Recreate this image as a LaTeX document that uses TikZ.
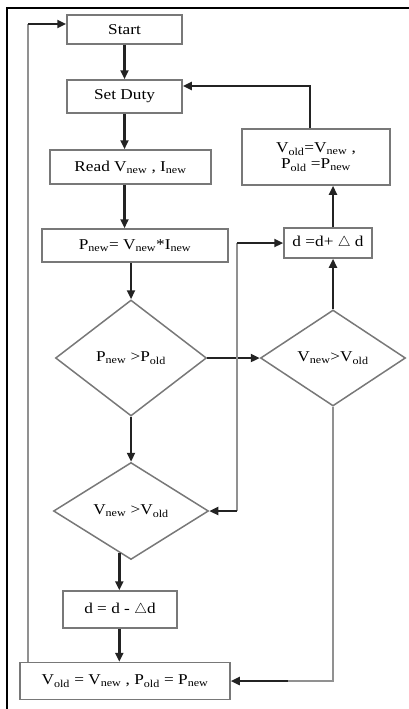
\documentclass[tikz,border=0pt]{standalone}
\usepackage{fontspec}
\setmainfont{Liberation Serif}[FakeStretch=1.15]
\usetikzlibrary{positioning,shapes.geometric,arrows.meta,calc}
\definecolor{BoxGray}{RGB}{120,120,120}
\definecolor{LineGray}{RGB}{145,145,145}
\definecolor{Ink}{RGB}{35,35,35}

\newcommand{\sub}[1]{\textsubscript{#1}}

\begin{document}
\begin{tikzpicture}[x=1pt,y=-1pt,
    stepbox/.style={rectangle,draw=BoxGray,line width=1.5pt,inner sep=2pt,align=center,font=\fontsize{15}{16}\selectfont},
    decision/.style={diamond,draw=BoxGray,line width=1.5pt,inner sep=0pt,font=\fontsize{15}{16}\selectfont},
    arrow/.style={-{Triangle[length=9pt,width=8pt]},draw=Ink,line width=2.6pt},
    link/.style={draw=LineGray,line width=1.8pt}
]
\useasboundingbox (0,0) rectangle (409,709);

% Frame
\draw[line width=2.6pt] (7,709) -- (7,8) -- (409,8);

% Main column
\node[stepbox,minimum width=115pt,minimum height=29pt] (start) at (124.5,29.5) {Start};
\node[stepbox,minimum width=115pt,minimum height=33pt] (duty) at (124.5,96.5) {Set Duty};
\node[stepbox,minimum width=161pt,minimum height=34pt] (read) at (130.5,167) {Read V\sub{new} , I\sub{new}};
\node[stepbox,minimum width=186pt,minimum height=33pt] (power) at (135,245.5) {P\sub{new}= V\sub{new}*I\sub{new}};

% Decisions
\node[decision,minimum width=151pt,minimum height=116pt] (cmpP) at (131,358) {P\sub{new} >P\sub{old}};
\node[decision,minimum width=155pt,minimum height=97pt] (cmpV) at (131,511) {V\sub{new} >V\sub{old}};
\node[decision,minimum width=145pt,minimum height=96pt] (cmpVR) at (333,358) {V\sub{new}>V\sub{old}};

% Duty updates
\node[stepbox,minimum width=114pt,minimum height=37pt] (dec) at (120,609.5) {d = d - $\triangle$d};
\node[stepbox,minimum width=88pt,minimum height=30pt] (inc) at (328,243) {d =d+ $\triangle$ d};
\node[stepbox,minimum width=148pt,minimum height=56pt] (save) at (316,157) {V\sub{old}=V\sub{new} ,\\P\sub{old} =P\sub{new}};
\node[stepbox,minimum width=210pt,minimum height=37pt] (upd) at (125,681) {V\sub{old} = V\sub{new} , P\sub{old} = P\sub{new}};

% Flow down the left column
\draw[arrow] (start) -- (duty);
\draw[arrow] (duty) -- (duty |- read.north);
\draw[arrow] (duty |- read.south) -- (duty |- power.north);
\draw[arrow] (cmpP.north |- power.south) -- (cmpP.north);
\draw[arrow] (cmpP.south) -- (cmpV.north);
\draw[arrow] ($(cmpV.south)!0.15!(cmpV.west)$) coordinate (dx) -- (dx |- dec.north);
\draw[arrow] (dx |- dec.south) -- (dx |- upd.north);

% Right branch
\draw[arrow] (cmpP.east) -- (cmpVR.west);
\draw[arrow] (cmpVR.north) -- (cmpVR.north |- inc.south);
\draw[arrow] (cmpVR.north |- inc.north) -- (cmpVR.north |- save.south);
\coordinate (fb) at (310,86);
\draw[arrow] (fb |- save.north) -- (fb) -- (fb -| duty.east);

% Link between lower decision and d+
\coordinate (jx) at (237,243);
\draw[link] (jx |- cmpV.east) -- (jx);
\draw[arrow] (jx) -- (inc.west);
\draw[arrow] (jx |- cmpV.east) -- (cmpV.east);

% Return paths
\draw[link] (cmpVR.south) |- ($(upd.east)+(57,0)$) coordinate (rb);
\draw[arrow] (rb) -- (upd.east);
\coordinate (lp) at (28,24);
\draw[link] (lp |- upd.north) -- (lp);
\draw[arrow] (lp) -- (lp -| start.west);

\end{tikzpicture}
\end{document}
